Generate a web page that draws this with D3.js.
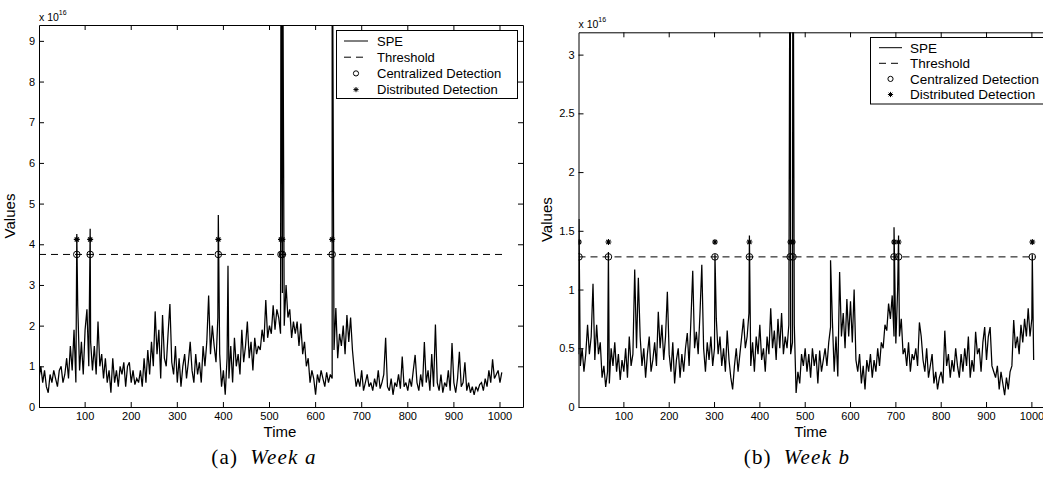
<!DOCTYPE html>
<html>
<head>
<meta charset="utf-8">
<script src="https://cdn.jsdelivr.net/npm/d3@7"></script>
<style>
  body { margin: 0; background: #fff; }
  svg { display: block; }
</style>
</head>
<body>
<div id="chart"></div>
<script>
//Tick labels shared by both panels
var timeTicks = [100, 200, 300, 400, 500, 600, 700, 800, 900, 1000];
var valueTicksA = [0, 1, 2, 3, 4, 5, 6, 7, 8, 9];
var valueTicksB = [0, 0.5, 1, 1.5, 2, 2.5, 3];
var legendLabels = ["SPE", "Threshold", "Centralized Detection", "Distributed Detection"];

//SPE series, read every 4th time step (t = 1, 5, 9, ...), units of 1e16
var stepT = 4;
var speA = [
    0.7, 1.0, 0.6, 0.9, 0.5, 0.35, 0.8, 0.6, 0.9, 0.7,
    0.5, 0.9, 1.0, 0.6, 0.8, 1.2, 0.7, 1.5, 0.9, 1.9,
    0.6, 2.5, 0.9, 1.6, 0.8, 1.9, 2.4, 1.0, 1.6, 0.9,
    1.5, 0.8, 2.1, 1.0, 1.3, 0.7, 1.2, 0.6, 0.9, 0.35,
    1.2, 0.6, 0.9, 0.5, 1.0, 0.8, 1.1, 0.5, 1.0, 1.1,
    0.6, 0.9, 0.55, 0.7, 0.6, 0.9, 0.5, 1.2, 0.6, 1.4,
    0.8, 1.6, 1.0, 2.35, 1.3, 1.9, 0.7, 2.26, 1.2, 1.0,
    1.8, 2.53, 1.1, 0.8, 1.5, 0.6, 1.2, 0.5, 1.0, 1.3,
    0.7, 1.1, 1.6, 0.9, 0.6, 1.3, 0.8, 1.1, 0.6, 1.5,
    1.0, 1.6, 2.74, 1.3, 2.0, 1.5, 1.1, 2.2, 1.3, 0.5,
    0.9, 0.3, 1.2, 0.7, 1.5, 0.6, 1.7, 1.0, 1.3, 0.8,
    1.9, 1.1, 1.5, 2.1, 1.2, 1.6, 0.9, 1.7, 1.3, 1.5,
    1.4, 1.9, 1.6, 2.63, 1.7, 2.0, 1.8, 2.5, 1.9, 2.4,
    2.2, 1.8, 2.8, 2.0, 3.0, 2.2, 2.4, 1.7, 2.1, 1.8,
    2.1, 1.5, 2.05, 1.3, 1.6, 1.0, 1.2, 0.6, 0.9, 0.7,
    0.3, 0.8, 0.6, 0.9, 0.7, 0.5, 0.85, 0.6, 0.8, 0.7,
    1.4, 2.43, 1.2, 1.8, 1.5, 2.0, 1.3, 2.26, 1.6, 2.2,
    1.4, 0.9, 0.5, 0.7, 0.5, 0.9, 0.4, 0.6, 0.8, 0.5,
    0.6, 0.4, 0.7, 0.5, 0.9, 0.45, 0.6, 0.8, 1.7, 0.5,
    0.4, 0.7, 0.3, 0.6, 0.5, 0.8, 0.45, 1.24, 0.5, 0.6,
    0.4, 0.7, 0.5, 0.9, 1.28, 0.6, 0.4, 0.8, 0.5, 1.6,
    0.6, 0.9, 0.4, 1.3, 0.5, 2.03, 0.6, 0.4, 0.8, 0.35,
    0.6, 0.5, 0.9, 0.4, 1.57, 0.6, 0.35, 0.7, 1.36, 0.5,
    0.6, 1.1, 0.4, 0.6, 0.35, 0.5, 0.3, 0.5, 0.4, 0.55,
    0.6, 0.4, 0.7, 0.5, 0.9, 0.6, 1.17, 0.7, 0.8, 0.9,
    0.6, 0.85
];
var speB = [
    0.45, 0.35, 0.5, 0.3, 0.45, 0.7, 0.45, 0.6, 1.05, 0.4,
    0.7, 0.45, 0.55, 0.25, 0.35, 0.17, 0.3, 0.2, 0.5, 0.35,
    0.55, 0.3, 0.45, 0.23, 0.4, 0.3, 0.5, 0.25, 0.6, 0.35,
    0.45, 1.17, 0.5, 1.1, 0.6, 0.35, 0.5, 0.25, 0.45, 0.6,
    0.3, 0.4, 0.55, 0.35, 0.81, 0.5, 0.7, 0.4, 0.6, 0.98,
    0.45, 0.3, 0.55, 0.2, 0.4, 0.5, 0.25, 0.45, 0.3, 0.5,
    0.63, 0.35, 0.74, 1.16, 0.5, 0.64, 0.45, 0.8, 1.21, 0.5,
    0.3, 0.55, 0.4, 0.6, 0.35, 0.5, 0.75, 0.45, 0.6, 0.35,
    0.5, 0.3, 0.65, 0.4, 0.25, 0.15, 0.35, 0.5, 0.3, 0.45,
    0.6, 0.75, 0.5, 0.6, 0.8, 0.35, 0.55, 0.3, 0.6, 0.45,
    0.7, 0.4, 0.5, 0.3, 0.6, 0.45, 0.84, 0.5, 0.65, 0.4,
    0.75, 0.5, 0.8, 0.45, 0.6, 0.5, 0.7, 0.45, 0.55, 0.7,
    0.12, 0.3, 0.2, 0.45, 0.35, 0.5, 0.3, 0.45, 0.25, 0.5,
    0.35, 0.45, 0.2, 0.48, 0.3, 0.4, 0.5, 0.35, 0.55, 0.68,
    0.74, 0.3, 0.6, 0.26, 1.15, 0.6, 0.8, 0.5, 0.92, 0.6,
    0.9, 0.55, 1.0, 0.4, 0.3, 0.45, 0.2, 0.35, 0.15, 0.4,
    0.3, 0.45, 0.25, 0.4, 0.3, 0.5, 0.35, 0.55, 0.5, 0.7,
    0.65, 0.88, 0.75, 0.95, 0.6, 0.54, 1.0, 0.6, 0.75, 0.45,
    0.5, 0.35, 0.55, 0.3, 0.45, 0.4, 0.5, 0.35, 0.72, 0.6,
    0.4, 0.3, 0.5, 0.25, 0.35, 0.45, 0.2, 0.3, 0.15, 0.25,
    0.3, 0.2, 0.65, 0.35, 0.45, 0.25, 0.4, 0.3, 0.5, 0.35,
    0.25, 0.45, 0.3, 0.5, 0.35, 0.6, 0.25, 0.4, 0.3, 0.64,
    0.45, 0.5, 0.3, 0.55, 0.68, 0.4, 0.6, 0.68, 0.35, 0.3,
    0.25, 0.35, 0.15, 0.3, 0.2, 0.1, 0.25, 0.15, 0.3, 0.35,
    0.74, 0.5, 0.6, 0.45, 0.7, 0.55, 0.75, 0.6, 0.84, 0.6,
    0.75, 0.4
];

//Single-step spikes [time, value]; values over the y limit run off the top
var spikesA = [[83, 4.25], [112, 4.38], [390, 4.72], [411, 3.47], [526, 12], [529, 14], [637, 14]];
var spikesB = [[2, 1.6], [67, 1.32], [302, 1.3], [378, 1.46], [468, 5], [474, 5], [557, 1.25], [697, 1.53], [707, 1.46], [1002, 1.3]];

//Detection times and levels
var detectA = [83, 112, 390, 526, 529, 637];
var detectB = [2, 67, 302, 378, 468, 474, 697, 707, 1002];
var thresholdA = 3.75, starA = 4.12;
var thresholdB = 1.278, starB = 1.405;

var width = 1043, height = 477;
var fontSans = "'Liberation Sans', Arial, Helvetica, sans-serif";

var svg = d3.select("#chart").append("svg")
    .attr("width", width)
    .attr("height", height)
    .style("font-family", fontSans);

//merge the sampled series with the spikes, sorted by time
function buildSeries(values, spikes) {
    var pts = values.map(function (v, i) { return {t: 1 + i * stepT, v: v}; });
    spikes.forEach(function (s) { pts.push({t: s[0], v: s[1]}); });
    pts.sort(function (a, b) { return a.t - b.t; });
    return pts;
}

function asterisk(s) {
    var d = s * 0.7;
    return "M" + (-s) + ",0H" + s + "M0," + (-s) + "V" + s +
        "M" + (-d) + "," + (-d) + "L" + d + "," + d +
        "M" + (-d) + "," + d + "L" + d + "," + (-d);
}

function drawPanel(p) {
    var x = d3.scaleLinear().domain([1, 1051]).range([p.left, p.right]);
    var y = d3.scaleLinear().domain([0, p.ymax]).range([p.bottom, p.top]);
    var g = svg.append("g");

    var clipId = "clip" + p.id;
    svg.append("clipPath").attr("id", clipId)
        .append("rect")
        .attr("x", p.left).attr("y", p.top)
        .attr("width", p.right - p.left).attr("height", p.bottom - p.top);

    //axes, MATLAB style: ticks inside on all four sides
    var fmt = function (d) { return String(d); };
    g.append("g").attr("transform", "translate(0," + p.bottom + ")")
        .call(d3.axisBottom(x).tickValues(timeTicks).tickSize(-5).tickSizeOuter(0).tickPadding(5).tickFormat(fmt));
    g.append("g").attr("transform", "translate(0," + p.top + ")")
        .call(d3.axisTop(x).tickValues(timeTicks).tickSize(-5).tickSizeOuter(0).tickFormat(""));
    g.append("g").attr("transform", "translate(" + p.left + ",0)")
        .call(d3.axisLeft(y).tickValues(p.yticks).tickSize(-5).tickSizeOuter(0).tickPadding(4).tickFormat(fmt));
    g.append("g").attr("transform", "translate(" + p.right + ",0)")
        .call(d3.axisRight(y).tickValues(p.yticks).tickSize(-5).tickSizeOuter(0).tickFormat(""));
    g.selectAll(".tick text").attr("font-size", 11).attr("font-family", fontSans).attr("fill", "#000");
    g.selectAll(".tick line").attr("stroke", "#000");
    g.selectAll(".domain").attr("stroke", "#000");

    //exponent label
    var ex = g.append("text").attr("x", p.left).attr("y", p.top - 4)
        .attr("font-size", 10.5);
    ex.append("tspan").text("x 10");
    ex.append("tspan").attr("font-size", 7).attr("dy", -6).text("16");

    //axis titles
    g.append("text").attr("x", (p.left + Math.min(p.right, width)) / 2 + p.timeShift).attr("y", p.bottom + 30)
        .attr("text-anchor", "middle").attr("font-size", 15).text("Time");
    g.append("text")
        .attr("transform", "translate(" + p.valuesX + "," + ((p.top + p.bottom) / 2) + ") rotate(-90)")
        .attr("text-anchor", "middle").attr("font-size", 15).text("Values");

    //caption
    var cap = g.append("text").attr("x", p.captionX).attr("y", 464)
        .attr("font-family", "'Liberation Serif', 'DejaVu Serif', serif").attr("font-size", 21)
        .attr("letter-spacing", 1.2)
        .attr("text-anchor", "middle");
    cap.append("tspan").text("(" + p.id + ")");
    cap.append("tspan").attr("dx", 12).attr("font-style", "italic").text("Week " + p.id);

    var plot = g.append("g").attr("clip-path", "url(#" + clipId + ")");

    //threshold
    plot.append("line")
        .attr("x1", x(1)).attr("x2", x(1008))
        .attr("y1", y(p.threshold)).attr("y2", y(p.threshold))
        .attr("stroke", "#000").attr("stroke-dasharray", "7,5");

    //SPE line
    var line = d3.line().x(function (d) { return x(d.t); }).y(function (d) { return y(d.v); });
    plot.append("path").datum(p.series)
        .attr("d", line)
        .attr("fill", "none").attr("stroke", "#000").attr("stroke-width", 1.25)
        .attr("stroke-linejoin", "miter").attr("stroke-miterlimit", 3);

    //detections
    plot.selectAll(".cdet").data(p.detect).enter().append("circle")
        .attr("class", "cdet")
        .attr("cx", function (d) { return x(d); })
        .attr("cy", y(p.threshold))
        .attr("r", 3.3)
        .attr("fill", "none").attr("stroke", "#000");
    plot.selectAll(".ddet").data(p.detect).enter().append("path")
        .attr("class", "ddet")
        .attr("transform", function (d) { return "translate(" + x(d) + "," + y(p.star) + ")"; })
        .attr("d", asterisk(3))
        .attr("stroke", "#000").attr("stroke-width", 1.1);

    //legend
    var L = p.legend;
    var lg = g.append("g");
    lg.append("rect").attr("x", L.x).attr("y", L.y).attr("width", L.w).attr("height", L.h)
        .attr("fill", "#fff").attr("stroke", "#000");
    legendLabels.forEach(function (lab, i) {
        var ry = L.row0 + i * L.dy;
        var cx = (L.lineX1 + L.lineX2) / 2;
        if (i === 0) {
            lg.append("line").attr("x1", L.lineX1).attr("x2", L.lineX2).attr("y1", ry).attr("y2", ry).attr("stroke", "#000");
        } else if (i === 1) {
            lg.append("line").attr("x1", L.lineX1).attr("x2", L.lineX2).attr("y1", ry).attr("y2", ry)
                .attr("stroke", "#000").attr("stroke-dasharray", "7,5");
        } else if (i === 2) {
            lg.append("circle").attr("cx", cx).attr("cy", ry).attr("r", 2.6).attr("fill", "none").attr("stroke", "#000");
        } else {
            lg.append("path").attr("transform", "translate(" + cx + "," + ry + ")").attr("d", asterisk(2.6))
                .attr("stroke", "#000");
        }
        lg.append("text").attr("x", L.textX).attr("y", ry).attr("dy", "0.36em")
            .attr("font-size", L.font).text(lab);
    });
}

drawPanel({
    id: "a", left: 39, right: 523, top: 25, bottom: 407, ymax: 9.39,
    yticks: valueTicksA, series: buildSeries(speA, spikesA), detect: detectA,
    threshold: thresholdA, star: starA, valuesX: 15, captionX: 264, timeShift: -1,
    legend: {x: 336.5, y: 30.5, w: 181, h: 68, row0: 41, dy: 16.2, lineX1: 344, lineX2: 368, textX: 377, font: 13}
});
drawPanel({
    id: "b", left: 578.5, right: 1054.5, top: 32.3, bottom: 407, ymax: 3.19,
    yticks: valueTicksB, series: buildSeries(speB, spikesB), detect: detectB,
    threshold: thresholdB, star: starB, valuesX: 552, captionX: 797, timeShift: 0,
    legend: {x: 870.5, y: 37.5, w: 178, h: 66.5, row0: 47.7, dy: 15.6, lineX1: 879, lineX2: 902, textX: 910, font: 13.5}
});
</script>
</body>
</html>
